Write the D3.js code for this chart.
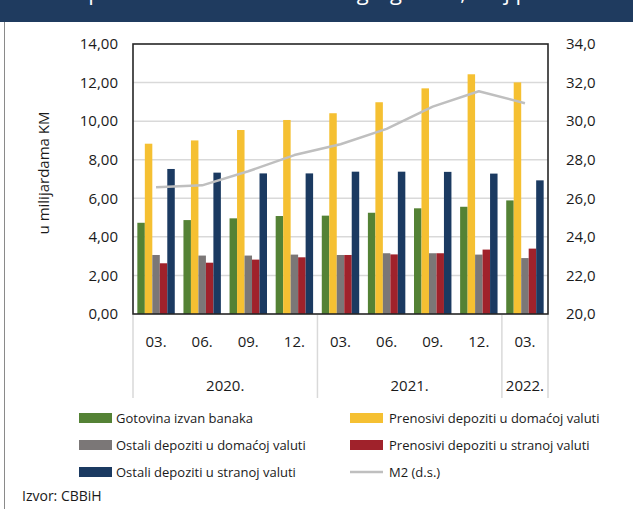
<!DOCTYPE html>
<html>
<head>
<meta charset="utf-8">
<script src="https://cdn.jsdelivr.net/npm/d3@7"></script>
<style>
  html, body { margin: 0; padding: 0; background: #fff; }
  svg { display: block; }
  text { font-family: "Open Sans", "Noto Sans", sans-serif; fill: #1a1a1a; }
</style>
</head>
<body>
<svg id="chart" width="633" height="509"></svg>
<script>
// ---------- data ----------
const months = ["03.", "06.", "09.", "12.", "03.", "06.", "09.", "12.", "03."];
const years = ["2020.", "2021.", "2022."];
const yearSpans = [4, 4, 1];
const seriesNames = [
  "Gotovina izvan banaka",
  "Prenosivi depoziti u domaćoj valuti",
  "Ostali depoziti u domaćoj valuti",
  "Prenosivi depoziti u stranoj valuti",
  "Ostali depoziti u stranoj valuti"
];
const gotovina = [4.73, 4.87, 4.96, 5.08, 5.10, 5.25, 5.48, 5.56, 5.89];
const prenosiviDomaca = [8.83, 9.00, 9.54, 10.06, 10.41, 10.98, 11.70, 12.43, 12.01];
const ostaliDomaca = [3.06, 3.03, 3.03, 3.08, 3.06, 3.15, 3.15, 3.08, 2.90];
const prenosiviStrana = [2.63, 2.66, 2.82, 2.94, 3.06, 3.09, 3.15, 3.34, 3.39];
const ostaliStrana = [7.52, 7.33, 7.29, 7.29, 7.38, 7.38, 7.37, 7.28, 6.93];
const m2 = [26.57, 26.67, 27.40, 28.24, 28.80, 29.60, 30.75, 31.55, 30.93];
const m2Name = "M2 (d.s.)";
const leftTicks = [0, 2, 4, 6, 8, 10, 12, 14];
const rightTicks = [20, 22, 24, 26, 28, 30, 32, 34];
const yTitle = "u milijardama KM";
const sourceText = "Izvor: CBBiH";
const titleText = "Komponente novčane mase i agregat M2, kraj perioda";

const seriesValues = [gotovina, prenosiviDomaca, ostaliDomaca, prenosiviStrana, ostaliStrana];
const colors = ["#548235", "#f5c032", "#7b7777", "#a0222b", "#1b3a61"];
const m2Color = "#bfbfbf";

// ---------- layout ----------
const svg = d3.select("#chart");
const plot = { left: 133, right: 548, top: 44, bottom: 314 };

// title bar (title text is cropped at the top edge, as in the reference)
svg.append("rect").attr("x", 0).attr("y", 0).attr("width", 633).attr("height", 22).attr("fill", "#1f3b5f");
svg.append("text").attr("x", 318).attr("y", 0).attr("text-anchor", "middle")
  .style("fill", "#ffffff").style("font-size", "22px").text(titleText);
// left frame line
svg.append("line").attr("x1", 4.5).attr("x2", 4.5).attr("y1", 22).attr("y2", 509)
  .attr("stroke", "#8a8a8a").attr("stroke-width", 1);

const idx = d3.range(months.length);
const x0 = d3.scaleBand().domain(idx).range([plot.left, plot.right]).padding(0);
const x1 = d3.scaleBand().domain(d3.range(seriesValues.length)).range([0, x0.bandwidth()])
  .paddingInner(0).paddingOuter(0.58);
const yL = d3.scaleLinear().domain([0, 14]).range([plot.bottom, plot.top]);
const yR = d3.scaleLinear().domain([20, 34]).range([plot.bottom, plot.top]);

// gridlines
svg.append("g").selectAll("line").data(leftTicks.filter(t => t > 0 && t < 14)).join("line")
  .attr("x1", plot.left).attr("x2", plot.right)
  .attr("y1", d => yL(d)).attr("y2", d => yL(d))
  .attr("stroke", "#d9d9d9").attr("stroke-width", 1.5);

// bars
const gBars = svg.append("g");
seriesValues.forEach((vals, s) => {
  gBars.append("g").selectAll("rect").data(vals).join("rect")
    .attr("x", (d, i) => x0(i) + x1(s))
    .attr("width", x1.bandwidth())
    .attr("y", d => yL(d))
    .attr("height", d => yL(0) - yL(d))
    .attr("fill", colors[s]);
});

// M2 line
const line = d3.line().x((d, i) => x0(i) + x0.bandwidth() / 2).y(d => yR(d));
svg.append("path").datum(m2).attr("d", line).attr("fill", "none")
  .attr("stroke", m2Color).attr("stroke-width", 2.5).attr("stroke-linejoin", "round");

// plot frame
svg.append("rect").attr("x", plot.left).attr("y", plot.top)
  .attr("width", plot.right - plot.left).attr("height", plot.bottom - plot.top)
  .attr("fill", "none").attr("stroke", "#262626").attr("stroke-width", 1.6);

// left axis
const fmtL = v => d3.format(".2f")(v).replace(".", ",");
const fmtR = v => d3.format(".1f")(v).replace(".", ",");
const axL = svg.append("g").attr("transform", `translate(${plot.left},0)`)
  .call(d3.axisLeft(yL).tickValues(leftTicks).tickFormat(fmtL).tickSize(0).tickPadding(15));
axL.select(".domain").remove();
axL.selectAll("text").style("font-size", "15px").style("fill", "#1a1a1a").style("font-family", "'Open Sans', sans-serif");

const axR = svg.append("g").attr("transform", `translate(${plot.right},0)`)
  .call(d3.axisRight(yR).tickValues(rightTicks).tickFormat(fmtR).tickSize(0).tickPadding(18));
axR.select(".domain").remove();
axR.selectAll("text").style("font-size", "15px").style("fill", "#1a1a1a").style("font-family", "'Open Sans', sans-serif");

// category separators
const sepIdx = [0, 4, 8, 9];
svg.append("g").selectAll("line").data(sepIdx).join("line")
  .attr("x1", d => d < 9 ? x0(d) : plot.right).attr("x2", d => d < 9 ? x0(d) : plot.right)
  .attr("y1", plot.bottom + 1).attr("y2", 398)
  .attr("stroke", "#d9d9d9").attr("stroke-width", 1.5);

// month labels
svg.append("g").selectAll("text").data(months).join("text")
  .attr("x", (d, i) => x0(i) + x0.bandwidth() / 2).attr("y", 347)
  .attr("text-anchor", "middle").style("font-size", "15px").text(d => d);

// year labels
let start = 0;
const yearPos = years.map((y, k) => { const s = start; start += yearSpans[k]; return { y, s, n: yearSpans[k] }; });
svg.append("g").selectAll("text").data(yearPos).join("text")
  .attr("x", d => x0(d.s) + d.n * x0.bandwidth() / 2).attr("y", 391)
  .attr("text-anchor", "middle").style("font-size", "15px").text(d => d.y);

// y title
svg.append("text").attr("transform", "translate(49,173) rotate(-90)")
  .attr("text-anchor", "middle").style("font-size", "15px").text(yTitle);

// legend
const legendItems = [
  { name: seriesNames[0], color: colors[0], col: 0, row: 0, type: "rect" },
  { name: seriesNames[1], color: colors[1], col: 1, row: 0, type: "rect" },
  { name: seriesNames[2], color: colors[2], col: 0, row: 1, type: "rect" },
  { name: seriesNames[3], color: colors[3], col: 1, row: 1, type: "rect" },
  { name: seriesNames[4], color: colors[4], col: 0, row: 2, type: "rect" },
  { name: m2Name, color: m2Color, col: 1, row: 2, type: "line" }
];
const colX = [79, 350], textX = [116, 389], rowY = [418, 445, 472];
const lg = svg.append("g");
legendItems.forEach(it => {
  if (it.type === "rect") {
    lg.append("rect").attr("x", colX[it.col]).attr("y", rowY[it.row] - 5)
      .attr("width", 33).attr("height", 10).attr("fill", it.color);
  } else {
    lg.append("line").attr("x1", colX[it.col]).attr("x2", colX[it.col] + 33)
      .attr("y1", rowY[it.row]).attr("y2", rowY[it.row])
      .attr("stroke", it.color).attr("stroke-width", 2.5);
  }
  lg.append("text").attr("x", textX[it.col]).attr("y", rowY[it.row]).attr("dy", "0.35em")
    .style("font-size", "13px").text(it.name);
});

// source
svg.append("text").attr("x", 22).attr("y", 501).style("font-size", "14px").text(sourceText);
</script>
</body>
</html>
